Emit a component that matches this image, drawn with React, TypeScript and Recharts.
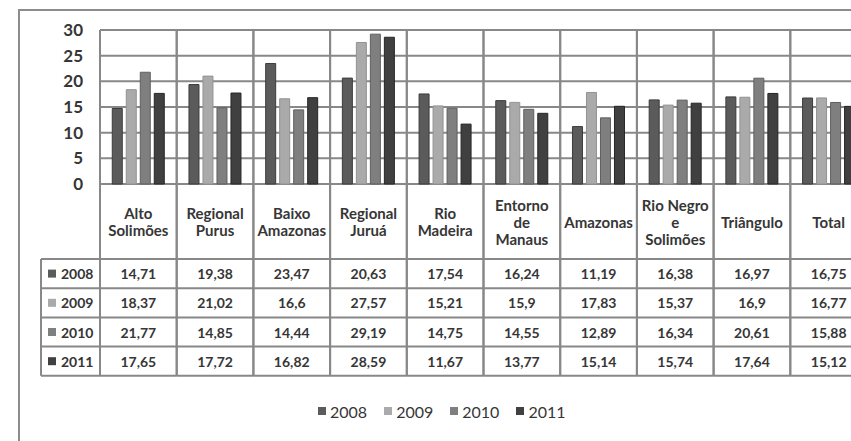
import React from 'react'
import {
  BarChart,
  Bar,
  XAxis,
  YAxis,
  CartesianGrid,
  Legend,
} from 'recharts'

const CATEGORIES = [
  'Alto\nSolimões',
  'Regional\nPurus',
  'Baixo\nAmazonas',
  'Regional\nJuruá',
  'Rio\nMadeira',
  'Entorno\nde\nManaus',
  'Amazonas',
  'Rio Negro\ne\nSolimões',
  'Triângulo',
  'Total',
]

const YEARS = ['2008', '2009', '2010', '2011']

const V2008 = [14.71, 19.38, 23.47, 20.63, 17.54, 16.24, 11.19, 16.38, 16.97, 16.75]
const V2009 = [18.37, 21.02, 16.6, 27.57, 15.21, 15.9, 17.83, 15.37, 16.9, 16.77]
const V2010 = [21.77, 14.85, 14.44, 29.19, 14.75, 14.55, 12.89, 16.34, 20.61, 15.88]
const V2011 = [17.65, 17.72, 16.82, 28.59, 11.67, 13.77, 15.14, 15.74, 17.64, 15.12]

const Y_TICKS = [0, 5, 10, 15, 20, 25, 30]

const SERIES_VALUES = [V2008, V2009, V2010, V2011]
const FILLS = ['#5b5b5b', '#aaaaaa', '#7f7f7f', '#404040']
const STROKES = ['#3c3c3c', '#929292', '#5f5f5f', '#262626']

const data = CATEGORIES.map((name, i) => {
  const row: Record<string, string | number> = { name }
  YEARS.forEach((y, s) => {
    row[y] = SERIES_VALUES[s][i]
  })
  return row
})

// layout
const CHART_W = 900
const CHART_H = 441
const PLOT_LEFT = 100
const PLOT_RIGHT = 867
const PLOT_TOP = 30
const PLOT_BOTTOM = 184
const LEGEND_H = 60
const ROW_TOP = 259
const ROW_H = 29.2
const KEY_LEFT = 41
const LINE = '#888888'
const TEXT = '#363636'
const FONT = 'Lato, "Open Sans", sans-serif'

const catWidth = (PLOT_RIGHT - PLOT_LEFT) / CATEGORIES.length
const fmt = (v: number) => String(v).replace('.', ',')

const TableTick = (props: any) => {
  const { x, payload } = props
  const i = payload.index
  const left = x - catWidth / 2
  const right = x + catWidth / 2
  const tableBottom = ROW_TOP + ROW_H * YEARS.length
  const lines = String(payload.value).split('\n')
  const headerMid = (PLOT_BOTTOM + ROW_TOP) / 2
  const lh = 17
  return (
    <g>
      <line x1={left} x2={left} y1={PLOT_TOP} y2={tableBottom} stroke={LINE} strokeWidth={2} />
      <line x1={right} x2={right} y1={PLOT_TOP} y2={tableBottom} stroke={LINE} strokeWidth={2} />
      {YEARS.map((_, r) => (
        <line
          key={`h${r}`}
          x1={left}
          x2={right}
          y1={ROW_TOP + r * ROW_H}
          y2={ROW_TOP + r * ROW_H}
          stroke={LINE}
          strokeWidth={2}
        />
      ))}
      <line x1={left} x2={right} y1={tableBottom} y2={tableBottom} stroke={LINE} strokeWidth={2} />
      {lines.map((t, k) => (
        <text
          key={`l${k}`}
          x={x}
          y={headerMid + (k - (lines.length - 1) / 2) * lh}
          textAnchor="middle"
          dominantBaseline="central"
          fontFamily={FONT}
          fontWeight={700}
          fontSize={15}
          fill={TEXT}
        >
          {t}
        </text>
      ))}
      {SERIES_VALUES.map((vals, r) => (
        <text
          key={`v${r}`}
          x={x}
          y={ROW_TOP + r * ROW_H + ROW_H / 2}
          textAnchor="middle"
          dominantBaseline="central"
          fontFamily={FONT}
          fontWeight={700}
          fontSize={14}
          fill={TEXT}
        >
          {fmt(vals[i])}
        </text>
      ))}
      {i === 0 && (
        <g>
          <line x1={KEY_LEFT} x2={KEY_LEFT} y1={ROW_TOP} y2={tableBottom} stroke={LINE} strokeWidth={2} />
          {YEARS.map((y, r) => (
            <g key={`k${r}`}>
              <line
                x1={KEY_LEFT}
                x2={left}
                y1={ROW_TOP + r * ROW_H}
                y2={ROW_TOP + r * ROW_H}
                stroke={LINE}
                strokeWidth={2}
              />
              <rect
                x={KEY_LEFT + 7}
                y={ROW_TOP + r * ROW_H + ROW_H / 2 - 4}
                width={8}
                height={8}
                fill={FILLS[r]}
              />
              <text
                x={KEY_LEFT + 20}
                y={ROW_TOP + r * ROW_H + ROW_H / 2}
                dominantBaseline="central"
                fontFamily={FONT}
                fontWeight={700}
                fontSize={14}
                fill={TEXT}
              >
                {y}
              </text>
            </g>
          ))}
          <line x1={KEY_LEFT} x2={left} y1={tableBottom} y2={tableBottom} stroke={LINE} strokeWidth={2} />
        </g>
      )}
    </g>
  )
}

const LegendContent = () => (
  <div
    style={{
      display: 'flex',
      alignItems: 'center',
      height: LEGEND_H,
      paddingLeft: 318,
      fontFamily: FONT,
      fontSize: 16,
      color: TEXT,
    }}
  >
    {YEARS.map((y, s) => (
      <div key={y} style={{ display: 'flex', alignItems: 'center', marginRight: 17 }}>
        <span style={{ width: 8, height: 8, background: FILLS[s], marginRight: 4 }} />
        <span>{y}</span>
      </div>
    ))}
  </div>
)

export default function App() {
  return (
    <div
      style={{
        position: 'absolute',
        left: 0,
        top: 0,
        width: 851,
        height: 441,
        overflow: 'hidden',
        background: '#fff',
      }}
    >
      <div
        style={{
          position: 'absolute',
          left: 18,
          top: 9,
          width: 1000,
          height: 1000,
          border: '2px solid #8c8c8c',
        }}
      />
      <div style={{ position: 'absolute', left: 0, top: 0 }}>
        <BarChart
          width={CHART_W}
          height={CHART_H}
          data={data}
          margin={{ top: PLOT_TOP, right: CHART_W - PLOT_RIGHT, bottom: 0, left: 0 }}
          barCategoryGap="16%"
          barGap={4}
        >
          <CartesianGrid vertical={false} stroke={LINE} strokeWidth={2} />
          <XAxis
            dataKey="name"
            axisLine={false}
            tickLine={false}
            tickSize={0}
            tickMargin={0}
            interval={0}
            height={CHART_H - PLOT_BOTTOM - LEGEND_H}
            tick={<TableTick />}
          />
          <YAxis
            width={PLOT_LEFT}
            domain={[0, 30]}
            ticks={Y_TICKS}
            axisLine={false}
            tickLine={false}
            tickSize={0}
            tickMargin={17}
            tick={{ fontFamily: FONT, fontWeight: 700, fontSize: 17, fill: TEXT }}
          />
          <Legend
            verticalAlign="bottom"
            align="left"
            height={LEGEND_H}
            content={<LegendContent />}
          />
          {YEARS.map((y, s) => (
            <Bar
              key={y}
              dataKey={y}
              fill={FILLS[s]}
              stroke={STROKES[s]}
              strokeWidth={1}
              isAnimationActive={false}
            />
          ))}
        </BarChart>
      </div>
    </div>
  )
}
